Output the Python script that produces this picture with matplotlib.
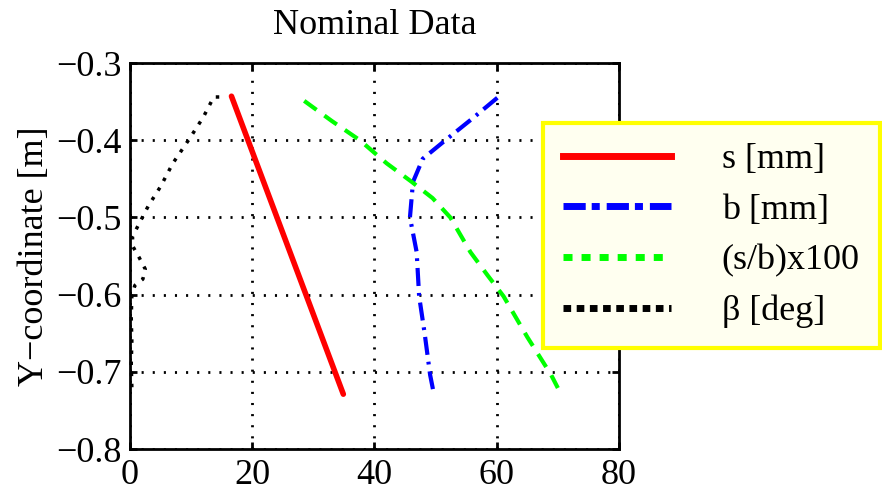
import matplotlib
matplotlib.use("Agg")
import matplotlib.pyplot as plt
from matplotlib.lines import Line2D

plt.rcParams['font.family'] = ['Liberation Serif', 'DejaVu Serif']
plt.rcParams['lines.scale_dashes'] = False

# values (x in series units, y in metres)
s_x = [16.6, 34.9]
s_y = [-0.343, -0.729]

b_x = [60.1, 56.0, 51.6, 47.9, 46.3, 45.8, 46.9, 47.3, 48.2, 49.1, 49.6]
b_y = [-0.345, -0.372, -0.400, -0.424, -0.454, -0.500, -0.545, -0.602, -0.650, -0.704, -0.724]

sb_x = [28.5, 33.0, 37.6, 42.0, 46.1, 49.5, 52.4, 55.7, 58.5, 61.1, 65.0, 68.9, 70.0]
sb_y = [-0.349, -0.375, -0.400, -0.430, -0.454, -0.475, -0.500, -0.545, -0.575, -0.602, -0.655, -0.704, -0.721]

beta_x = [14.6, 13.7, 12.0, 9.9, 7.0, 5.0, 3.0, 1.3, 0.4, 0.5, 1.5, 2.5, 2.1, 0.8, 0.3, 0.2, 0.3, 0.2, 0.3]
beta_y = [-0.344, -0.344, -0.370, -0.396, -0.430, -0.460, -0.485, -0.511, -0.525, -0.538, -0.552, -0.567, -0.580, -0.588, -0.601, -0.630, -0.660, -0.690, -0.720]

labels = ['s [mm]', 'b [mm]', '(s/b)x100', 'β [deg]']
colors = ['#ff0000', '#0000ff', '#00ff00', '#000000']

xticks = [0, 20, 40, 60, 80]
yticks = [-0.8, -0.7, -0.6, -0.5, -0.4, -0.3]

fig = plt.figure(figsize=(8.82, 4.99), dpi=100)
ax = fig.add_axes([0.1474, 0.1002, 0.5544, 0.7735])

ax.plot(s_x, s_y, color=colors[0], lw=4.0, solid_capstyle='round')
ax.plot(b_x, b_y, color=colors[1], lw=3.0, dashes=[13, 5, 2, 5])
ax.plot(sb_x, sb_y, color=colors[2], lw=3.0, dashes=[11, 7])
ax.plot(beta_x, beta_y, color=colors[3], lw=2.5, dashes=[2.5, 5.5], clip_on=False)

ax.set_xlim(0, 80)
ax.set_ylim(-0.8, -0.3)
ax.set_xticks(xticks)
ax.set_yticks(yticks)
ax.grid(True, color='black', lw=2.0, linestyle=(0, (1.5, 6.5)))
ax.tick_params(direction='in', length=5, width=2, top=True, right=True,
               labelsize=26)
ax.tick_params(axis='x', pad=7)
ax.tick_params(axis='y', pad=6)
for sp in ax.spines.values():
    sp.set_linewidth(2)

ax.set_title('Nominal Data', fontsize=26, pad=21)
ax.set_ylabel('Y\u2212coordinate [m]', fontsize=26, labelpad=4)

handles = [
    Line2D([], [], color=colors[0], lw=5),
    Line2D([], [], color=colors[1], lw=5, dashes=[16, 4.3, 5.8, 5]),
    Line2D([], [], color=colors[2], lw=5, dashes=[6.5, 6.5]),
    Line2D([], [], color=colors[3], lw=5, dashes=[5.5, 4]),
]
leg = ax.legend(handles, labels, loc='upper left', bbox_to_anchor=(0.8446, 0.8446),
                borderaxespad=0, fontsize=26, handlelength=3.0, handletextpad=1.4,
                labelspacing=0.48, borderpad=0.55, fancybox=False, framealpha=1,
                facecolor='#fffff0', edgecolor='#ffff00')
leg.get_frame().set_linewidth(3)

fig.savefig('out.png', dpi=100)
